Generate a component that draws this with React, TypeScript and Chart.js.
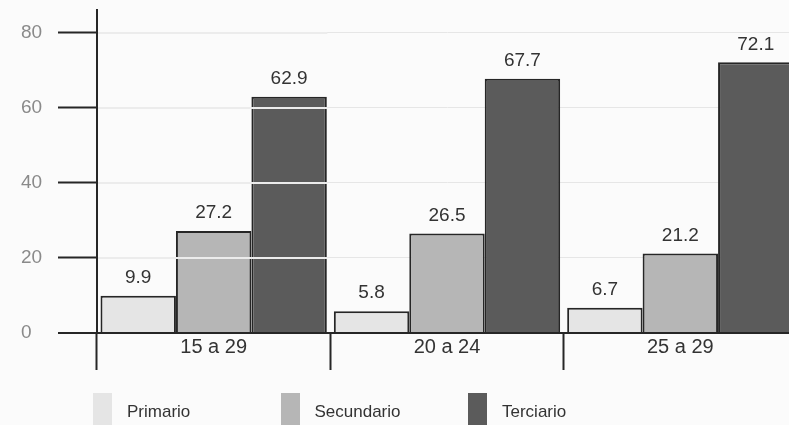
import React, { useEffect, useRef } from "react";
import { Chart, registerables } from "chart.js";

Chart.register(...registerables);

// Age groups and share (%) of each education level
const categories = ["15 a 29", "20 a 24", "25 a 29"];
const primario = [9.9, 5.8, 6.7];
const secundario = [27.2, 26.5, 21.2];
const terciario = [62.9, 67.7, 72.1];

const seriesNames = ["Primario", "Secundario", "Terciario"];
const seriesColors = ["#e5e5e5", "#b6b6b6", "#5b5b5b"];
const yTickValues = [0, 20, 40, 60, 80];

const FONT = '"Liberation Sans", Arial, Helvetica, sans-serif';
const INK = "#262626";

// Numbers printed above each bar
const valueLabels = {
  id: "valueLabels",
  afterDatasetsDraw(chart: any) {
    const { ctx } = chart;
    ctx.save();
    ctx.font = `19px ${FONT}`;
    ctx.fillStyle = "#333";
    ctx.textAlign = "center";
    ctx.textBaseline = "middle";
    chart.data.datasets.forEach((ds: any, i: number) => {
      const meta = chart.getDatasetMeta(i);
      meta.data.forEach((bar: any, j: number) => {
        const v = ds.data[j] as number;
        ctx.fillText(v.toFixed(1), bar.x, bar.y - 18);
      });
    });
    ctx.restore();
  },
};

// Light rules that run across the bars of the first age group
const firstGroupRules = {
  id: "firstGroupRules",
  afterDatasetsDraw(chart: any) {
    const { ctx, chartArea } = chart;
    const x = chart.scales.x;
    const y = chart.scales.y;
    const half = (x.getPixelForValue(1) - x.getPixelForValue(0)) / 2;
    const right = x.getPixelForValue(0) + half;
    ctx.save();
    ctx.strokeStyle = "#ececec";
    ctx.lineWidth = 2;
    yTickValues
      .filter((v) => v > 0)
      .forEach((v) => {
        const py = Math.round(y.getPixelForValue(v));
        ctx.beginPath();
        ctx.moveTo(chartArea.left + 1, py);
        ctx.lineTo(right - 3, py);
        ctx.stroke();
      });
    ctx.restore();
  },
};

function Legend() {
  return (
    <div
      style={{
        position: "absolute",
        left: 93,
        top: 393,
        display: "flex",
        fontFamily: FONT,
        fontSize: 17,
        color: "#333",
      }}
    >
      {seriesNames.map((name, i) => (
        <div key={name} style={{ width: 187.5, display: "flex", alignItems: "flex-start" }}>
          <div style={{ width: 19, height: 34, background: seriesColors[i] }} />
          <div style={{ marginLeft: 15, paddingTop: 9, lineHeight: "20px" }}>{name}</div>
        </div>
      ))}
    </div>
  );
}

export default function App() {
  const canvasRef = useRef<HTMLCanvasElement | null>(null);

  useEffect(() => {
    const canvas = canvasRef.current;
    if (!canvas) return;
    const series = [primario, secundario, terciario];
    const chart = new Chart(canvas, {
      type: "bar",
      data: {
        labels: categories,
        datasets: seriesNames.map((name, i) => ({
          label: name,
          data: series[i],
          backgroundColor: seriesColors[i],
          borderColor: INK,
          borderWidth: 2,
          barPercentage: 1,
          categoryPercentage: 0.97,
        })),
      },
      options: {
        responsive: false,
        animation: false,
        devicePixelRatio: 1,
        layout: { padding: { left: 21, top: 7, right: 3, bottom: 70 } },
        plugins: {
          legend: { display: false },
          tooltip: { enabled: false },
        },
        scales: {
          x: {
            type: "category",
            offset: true,
            grid: {
              offset: true,
              drawOnChartArea: false,
              drawTicks: true,
              tickLength: 37,
              tickColor: INK,
              tickWidth: 2,
            },
            border: { display: true, color: INK, width: 2 },
            ticks: {
              color: "#333",
              padding: -35,
              font: { family: FONT, size: 20 },
            },
            afterFit(scale: any) {
              scale.height = 37;
            },
          },
          y: {
            min: 0,
            max: 86,
            ticks: {
              stepSize: 20,
              crossAlign: "far",
              color: "#8a8a8a",
              font: { family: FONT, size: 19, lineHeight: 0.75 },
            },
            afterBuildTicks(scale: any) {
              scale.ticks = yTickValues.map((v) => ({ value: v }));
            },
            afterFit(scale: any) {
              scale.width = 76;
            },
            grid: {
              color: (c: any) => (c.tick && c.tick.value === 0 ? INK : "#e6e6e6"),
              lineWidth: (c: any) => (c.tick && c.tick.value === 0 ? 2 : 1),
              tickColor: INK,
              tickWidth: 2,
              tickLength: 39,
            },
            border: { display: true, color: INK, width: 2 },
          },
        },
      },
      plugins: [firstGroupRules, valueLabels],
    } as any);
    return () => chart.destroy();
  }, []);

  return (
    <div
      style={{
        position: "fixed",
        left: 0,
        top: 0,
        width: 789,
        height: 425,
        overflow: "hidden",
        background: "#fbfbfb",
      }}
    >
      <canvas
        ref={canvasRef}
        width={800}
        height={440}
        style={{ position: "absolute", left: 0, top: 0, width: 800, height: 440 }}
      />
      <Legend />
    </div>
  );
}
